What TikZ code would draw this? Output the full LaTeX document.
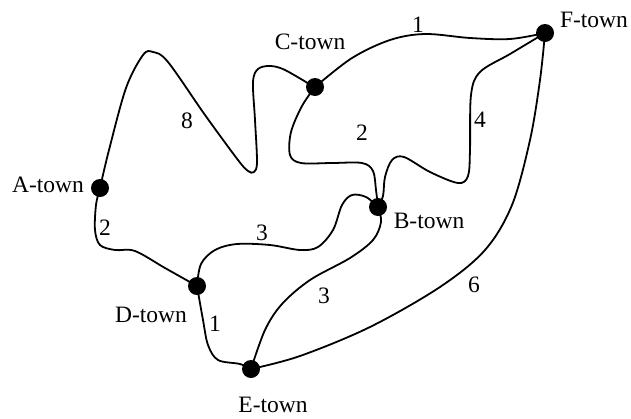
\documentclass[tikz,border=0pt]{standalone}
\usepackage{fontspec}
\setmainfont{Liberation Serif}
\begin{document}
\begin{tikzpicture}[x=1pt,y=-1pt,
  town/.style={circle,fill=black,inner sep=0pt,minimum size=18pt},
  road/.style={line width=1.8pt,line join=round,line cap=round},
  lbl/.style={inner sep=0pt,font=\fontsize{23.5}{26}\selectfont},
  wt/.style={inner sep=0pt,font=\fontsize{23.5}{26}\selectfont}]
\useasboundingbox (0,0) rectangle (631,418);
\node[town] (A) at (100,188) {};
\node[town] (C) at (315,87) {};
\node[town] (F) at (545,33) {};
\node[town] (B) at (378,207) {};
\node[town] (D) at (197,286) {};
\node[town] (E) at (251,369) {};
% roads
\draw[road] plot[smooth,tension=0.55] coordinates {(A.center) (109,150) (126,88) (143,55) (153,52) (168,62) (205,115) (238,160) (248,171) (254,172) (257,162) (255,120) (253,82) (258,69) (270,66) (285,70) (315,87.5)};
\draw[road] plot[smooth,tension=0.55] coordinates {(C.center) (302,106) (291,132) (290,155) (301,163) (332,163) (362,163) (373,171) (376,190) (B.center)};
\draw[road] plot[smooth,tension=0.55] coordinates {(C.center) (352,58) (390,40) (425,34) (470,38) (510,39) (F.center)};
\draw[road] plot[smooth,tension=0.55] coordinates {(F.center) (510,54) (480,72) (471,95) (470,150) (468,176) (458,183) (430,172) (404,157) (392,160) (385,177) (383,196) (B.center)};
\draw[road] plot[smooth,tension=0.55] coordinates {(D.center) (201,264) (215,250) (237,244) (270,245) (300,250) (318,247) (333,230) (342,205) (352,195) (366,197) (B.center)};
\draw[road] plot[smooth,tension=0.55] coordinates {(B.center) (381,222) (373,240) (350,258) (310,280) (282,304) (265,330) (E.center)};
\draw[road] plot[smooth,tension=0.55] coordinates {(D.center) (203,320) (208,345) (218,360) (240,364) (E.center)};
\draw[road] plot[smooth,tension=0.55] coordinates {(E.center) (300,356) (370,327) (440,287) (485,250) (512,205) (530,140) (540,80) (F.center)};
\draw[road] plot[smooth,tension=0.55] coordinates {(A.center) (96,205) (95,230) (100,245) (115,250) (135,251) (165,268) (D.center)};
% town names
\node[lbl] (tA) at (48,185) {A-town};
\node[lbl] (tC) at (310,42) {C-town};
\node[lbl] (tF) at (594,20) {F-town};
\node[lbl] (tB) at (429,221) {B-town};
\node[lbl] (tD) at (151,315) {D-town};
\node[lbl] (tE) at (273,405) {E-town};
% weights
\node[wt] (w8) at (187,121) {8};
\node[wt] (w1a) at (418,25) {1};
\node[wt] (w2a) at (362,133) {2};
\node[wt] (w4) at (480,120) {4};
\node[wt] (w2b) at (105,228) {2};
\node[wt] (w3a) at (262,233) {3};
\node[wt] (w1b) at (215,324) {1};
\node[wt] (w3b) at (324,296) {3};
\node[wt] (w6) at (474,285) {6};
\end{tikzpicture}
\end{document}
